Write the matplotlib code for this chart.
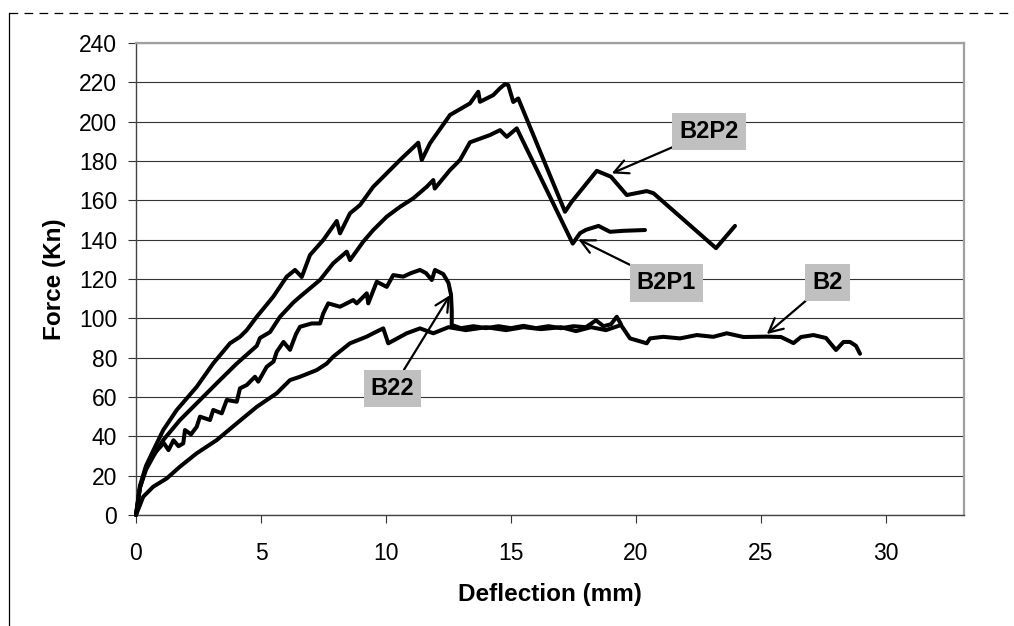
import matplotlib
matplotlib.use("Agg")
import matplotlib.pyplot as plt
from matplotlib.lines import Line2D

plt.rcParams['font.family'] = ['Liberation Sans', 'DejaVu Sans']

# ---- data (Deflection mm, Force kN) ----
b2_x = [0, 0.29, 0.69, 1.23, 1.76, 2.43, 3.23, 4.03, 4.83, 5.63, 6.16, 6.56, 7.23, 7.63,
        7.89, 8.56, 9.23, 9.49, 9.89, 10.09, 10.83, 11.36, 11.89, 12.5, 13.2, 14.0, 14.8,
        15.5, 16.2, 17.0, 17.6, 18.2, 18.8, 19.4, 19.76, 20.43, 20.56, 21.09, 21.76, 22.43,
        23.09, 23.63, 24.3, 25.23, 25.8, 26.3, 26.6, 27.1, 27.6, 28.0, 28.3, 28.56, 28.8, 28.96]
b2_y = [0, 9.3, 14.4, 18.6, 24.6, 31.4, 38.1, 46.6, 55.0, 61.9, 68.6, 70.3, 73.7, 77.0,
        80.5, 87.3, 90.7, 92.4, 94.9, 87.3, 92.4, 94.9, 92.4, 95.5, 94.0, 95.5, 94.0,
        95.5, 94.5, 95.5, 93.5, 95.5, 94.0, 96.6, 89.8, 87.3, 89.8, 90.6, 89.8, 91.5,
        90.6, 92.4, 90.5, 90.7, 90.5, 87.4, 90.5, 91.5, 90.0, 83.9, 88.0, 88.0, 86.0, 82.0]

b22_x = [0, 0.16, 0.4, 0.7, 1.0, 1.09, 1.3, 1.5, 1.7, 1.89, 1.96, 2.2, 2.43, 2.56, 2.96,
         3.09, 3.43, 3.63, 4.03, 4.16, 4.43, 4.76, 4.89, 5.23, 5.5, 5.63, 5.9, 6.16, 6.4,
         6.56, 7.03, 7.36, 7.49, 7.69, 8.16, 8.69, 8.83, 9.23, 9.29, 9.63, 10.03, 10.29,
         10.69, 11.0, 11.36, 11.6, 11.83, 11.96, 12.29, 12.5, 12.6, 12.63, 12.63, 13.0,
         13.5, 14.0, 14.5, 15.0, 15.5, 16.0, 16.5, 17.0, 17.5, 18.0, 18.4, 18.7, 19.0,
         19.23, 19.4]
b22_y = [0, 14, 24, 31, 35, 37, 33, 38, 35, 36.4, 43.2, 41, 44.9, 50, 48.3,
         53.4, 51.7, 58.5, 57.6, 64.4, 66.1, 70.3, 67.8, 75.4, 78, 83, 88, 84, 92,
         95.7, 97.4, 97.4, 102.5, 107.6, 105.9, 109.3, 107.6, 112.7, 107.6, 118.6, 116, 122,
         121.2, 123, 124.6, 123, 119.5, 124.6, 122.5, 118, 112, 104, 96.6, 95,
         96, 95, 96, 95, 96.2, 95, 96, 95, 96, 95.5, 99, 96, 97,
         100.8, 97]

b2p1_x = [0, 0.16, 0.4, 0.7, 1.09, 1.76, 2.43, 3.23, 4.03, 4.83, 4.96, 5.36, 5.76, 6.29,
          6.56, 7.36, 7.89, 8.43, 8.56, 9.09, 9.49, 10.03, 10.56, 11.09, 11.63, 11.89,
          11.95, 12.56, 12.96, 13.36, 14.16, 14.56, 14.83, 15.23, 17.47, 17.76, 18.0,
          18.5, 18.96, 19.5, 20.36]
b2p1_y = [0, 14, 23, 30, 38.1, 48.3, 56.8, 67, 77, 86, 90, 93, 100.8, 108,
          111, 119.5, 128, 133.9, 129.6, 139, 144.9, 151.7, 156.7, 161, 166.9, 170.3,
          166, 175.4, 180.5, 189.5, 193.2, 195.7, 192.3, 196.6, 138, 143.3, 145,
          147, 144, 144.5, 144.9]

b2p2_x = [0, 0.16, 0.4, 0.7, 1.09, 1.63, 2.43, 3.09, 3.76, 4.16, 4.43, 4.83, 5.49, 6.03,
          6.36, 6.56, 6.63, 6.96, 7.49, 8.03, 8.16, 8.56, 8.96, 9.49, 9.76, 10.56, 11.29,
          11.43, 11.76, 12.56, 13.36, 13.69, 13.76, 14.29, 14.56, 14.76, 14.89, 15.09,
          15.29, 17.16, 17.43, 18.43, 19.0, 19.63, 20.43, 20.7, 23.2, 23.96]
b2p2_y = [0, 15, 25, 33, 43.2, 53.4, 65.2, 77.1, 87.3, 90.6, 94, 100.8, 111, 121.2,
          124.6, 122, 121, 132.2, 139.8, 149.5, 143.2, 153.4, 157.6, 166.9, 170.3, 180.5, 189.3,
          180.5, 189, 203.4, 209.3, 215.2, 210.1, 213.5, 217, 219.1, 218.6, 210,
          211.8, 154.2, 159.3, 175, 172, 162.7, 164.7, 163.6, 135.7, 147]

x_ticks = [0, 5, 10, 15, 20, 25, 30]
y_ticks = list(range(0, 241, 20))
x_label = "Deflection (mm)"
y_label = "Force (Kn)"

labels = ["B2P2", "B2P1", "B2", "B22"]
label_xy = [(22.92, 195.0), (21.22, 118.0), (27.65, 118.2), (10.26, 64.4)]
arrow_tip = [(19.03, 173.7), (17.69, 140.2), (25.23, 92.0), (12.56, 111.8)]

# ---- figure ----
W, H = 1014, 626
fig = plt.figure(figsize=(W / 100, H / 100), dpi=100)
ax = fig.add_axes([136 / W, (H - 515) / H, (964 - 136) / W, (515 - 43) / H])

for xs, ys in [(b2_x, b2_y), (b22_x, b22_y), (b2p1_x, b2p1_y), (b2p2_x, b2p2_y)]:
    ax.plot(xs, ys, color='black', lw=2.9, solid_joinstyle='round',
            solid_capstyle='round', clip_on=False, zorder=3)

ax.set_xlim(0, 33.12)
ax.set_ylim(0, 240)
ax.set_xticks(x_ticks)
ax.set_yticks(y_ticks)
ax.tick_params(axis='both', direction='out', length=5.5, width=0.8, color='#333333',
               labelsize=16.5)
ax.tick_params(axis='x', pad=14)
ax.tick_params(axis='y', pad=8)
ax.yaxis.grid(True, color='#333333', lw=0.8)
ax.set_axisbelow(True)
for s in ['left', 'bottom']:
    ax.spines[s].set_color('#444444')
    ax.spines[s].set_linewidth(1.0)
for s in ['right', 'top']:
    ax.spines[s].set_color('#a0a0a0')
    ax.spines[s].set_linewidth(1.6)

ax.set_xlabel(x_label, fontsize=17.5, fontweight='bold', labelpad=13)
ax.set_ylabel(y_label, fontsize=17.5, fontweight='bold', labelpad=9)

for lab, pos, tip in zip(labels, label_xy, arrow_tip):
    ax.annotate(lab, xy=tip, xytext=pos, textcoords='data', ha='center', va='center',
                fontsize=17, fontweight='bold', color='black', zorder=5,
                bbox=dict(boxstyle='square,pad=0.3', fc='#c0c0c0', ec='none'),
                arrowprops=dict(arrowstyle='->,head_length=0.5,head_width=0.25',
                                color='black', lw=1.6, shrinkA=0, shrinkB=0,
                                mutation_scale=20))

# outer border (top dashed, left solid)
fig.add_artist(Line2D([9 / W, 1.0], [1 - 13 / H, 1 - 13 / H], color='black', lw=0.9,
                      linestyle=(0, (7, 5)), transform=fig.transFigure))
fig.add_artist(Line2D([9 / W, 9 / W], [0, 1 - 13 / H], color='black', lw=0.9,
                      transform=fig.transFigure))

fig.savefig('out.png', dpi=100)
